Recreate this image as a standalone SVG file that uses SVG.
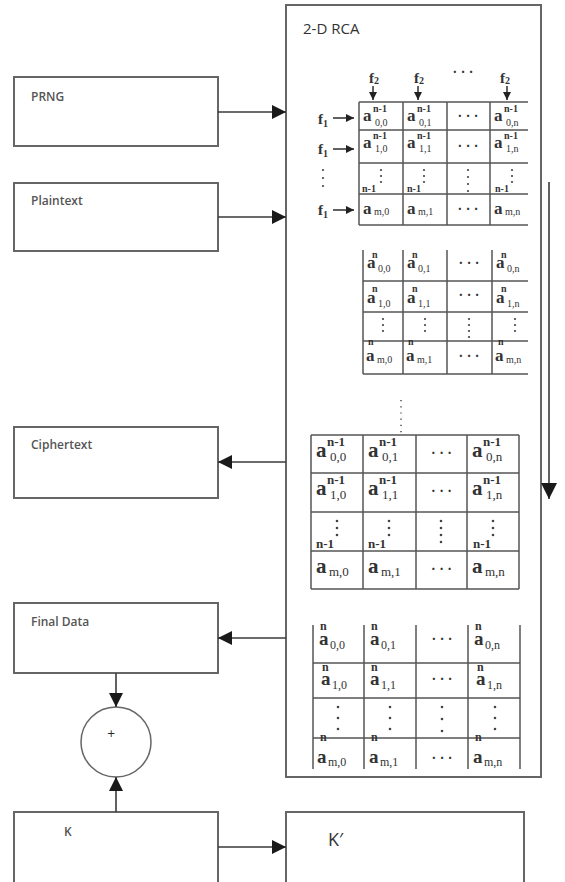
<svg xmlns="http://www.w3.org/2000/svg" width="565" height="882" viewBox="0 0 565 882">
<style>
.box{fill:#fff;stroke:#666;stroke-width:2}
.lbl{font-family:"Open Sans","DejaVu Sans",sans-serif;font-size:12px;font-weight:600;fill:#555}
.ttl{font-family:"Open Sans","DejaVu Sans",sans-serif;font-size:15px;fill:#333}
.conn{stroke:#3a3a3a;stroke-width:1.6;fill:none}
.grid{stroke:#555;stroke-width:1.5;fill:none}
.dot{fill:#444}
.ser{font-family:"Liberation Serif",serif;fill:#333}
.A1{font-size:17px;font-weight:bold}
.p1{font-size:10px;font-weight:bold}
.b1{font-size:10px}
.A3{font-size:21px;font-weight:bold}
.p3{font-size:13px;font-weight:bold}
.b3{font-size:13px}
.A4{font-size:19px;font-weight:bold}
.p4{font-size:12px;font-weight:bold}
.b4{font-size:12px}
.ell{font-family:"Liberation Serif",serif;font-size:14px;fill:#333;text-anchor:middle;font-weight:bold}
.f{font-family:"Liberation Serif",serif;font-weight:bold;fill:#333}
</style>
<defs>
<marker id="ah" viewBox="0 0 14 14" refX="14" refY="7" markerWidth="14" markerHeight="14" markerUnits="userSpaceOnUse" orient="auto"><path d="M0,0 L14,7 L0,14 Z" fill="#1a1a1a"/></marker>
<marker id="ahs" viewBox="0 0 8 8" refX="8" refY="4" markerWidth="8" markerHeight="8" markerUnits="userSpaceOnUse" orient="auto"><path d="M0,0 L8,4 L0,8 Z" fill="#222"/></marker>
<marker id="ahb" viewBox="0 0 16 16" refX="16" refY="8" markerWidth="16" markerHeight="16" markerUnits="userSpaceOnUse" orient="auto"><path d="M0,0 L16,8 L0,16 Z" fill="#1a1a1a"/></marker>
<clipPath id="cr"><rect x="280" y="0" width="248" height="882"/></clipPath>
</defs>

<g id="rca">
<rect class="box" x="286" y="5" width="255" height="772"/>
<text class="ttl" x="303" y="34">2-D RCA</text>
</g>

<g id="prng"><rect class="box" x="14" y="77" width="204" height="69"/><text class="lbl" x="31" y="101">PRNG</text></g>
<g id="plaintext"><rect class="box" x="14" y="183" width="204" height="68"/><text class="lbl" x="31" y="205">Plaintext</text></g>
<g id="ciphertext"><rect class="box" x="14" y="427" width="204" height="71"/><text class="lbl" x="31" y="449">Ciphertext</text></g>
<g id="finaldata"><rect class="box" x="14" y="603" width="204" height="70"/><text class="lbl" x="31" y="626">Final Data</text></g>
<g id="xor"><circle cx="116" cy="742" r="35" fill="#fff" stroke="#666" stroke-width="1.5"/><text x="107" y="737" font-family="DejaVu Sans,sans-serif" font-size="10" fill="#222">+</text></g>
<g id="k"><rect class="box" x="14" y="812" width="204" height="80"/><text class="lbl" x="64" y="836" font-weight="normal">K</text></g>
<g id="kprime"><rect class="box" x="286" y="812" width="238" height="80"/><text x="328" y="846" font-family="Open Sans,DejaVu Sans,sans-serif" font-size="18" fill="#333">K′</text></g>

<g id="connectors">
<line class="conn" x1="218" y1="112" x2="286" y2="112" marker-end="url(#ah)"/>
<line class="conn" x1="218" y1="217" x2="286" y2="217" marker-end="url(#ah)"/>
<line class="conn" x1="286" y1="462" x2="218" y2="462" marker-end="url(#ah)"/>
<line class="conn" x1="286" y1="638" x2="218" y2="638" marker-end="url(#ah)"/>
<line class="conn" x1="116" y1="673" x2="116" y2="707" marker-end="url(#ah)"/>
<line class="conn" x1="116" y1="812" x2="116" y2="777" marker-end="url(#ah)"/>
<line class="conn" x1="218" y1="847" x2="286" y2="847" marker-end="url(#ah)"/>
<line class="conn" x1="549" y1="182" x2="549" y2="499" marker-end="url(#ahb)"/>
</g>

<!-- matrix 1 -->
<g id="matrix1">
<g class="f">
<text x="369" y="83" font-size="15">f<tspan font-size="10" dy="1">2</tspan></text>
<text x="414" y="83" font-size="15">f<tspan font-size="10" dy="1">2</tspan></text>
<text x="500" y="83" font-size="15">f<tspan font-size="10" dy="1">2</tspan></text>
<text x="318" y="124" font-size="15">f<tspan font-size="10" dy="3">1</tspan></text>
<text x="318" y="154" font-size="15">f<tspan font-size="10" dy="3">1</tspan></text>
<text x="318" y="215" font-size="15">f<tspan font-size="10" dy="3">1</tspan></text>
</g>
<text class="ell" x="463" y="77">· · ·</text>
<line class="conn" x1="373" y1="86" x2="373" y2="100" stroke-width="1.2" marker-end="url(#ahs)"/>
<line class="conn" x1="418" y1="86" x2="418" y2="100" stroke-width="1.2" marker-end="url(#ahs)"/>
<line class="conn" x1="507" y1="86" x2="507" y2="100" stroke-width="1.2" marker-end="url(#ahs)"/>
<line class="conn" x1="333" y1="118" x2="354" y2="118" stroke-width="1.2" marker-end="url(#ahs)"/>
<line class="conn" x1="333" y1="149" x2="354" y2="149" stroke-width="1.2" marker-end="url(#ahs)"/>
<line class="conn" x1="333" y1="210" x2="354" y2="210" stroke-width="1.2" marker-end="url(#ahs)"/>
<circle class="dot" cx="323" cy="170" r="1.1"/><circle class="dot" cx="323" cy="178" r="1.1"/><circle class="dot" cx="323" cy="186" r="1.1"/>
<g clip-path="url(#cr)">
<path class="grid" d="M359,102H528M359,130H528M359,163H528M359,194H528M359,225H528M359,102V225M403,102V225M447,102V225M490,102V225"/>
<g class="ser">
<text class="A1" x="363" y="121">a</text><text class="p1" x="373" y="112">n-1</text><text class="b1" x="375" y="126">0,0</text>
<text class="A1" x="407" y="121">a</text><text class="p1" x="417" y="112">n-1</text><text class="b1" x="419" y="126">0,1</text>
<text class="A1" x="494" y="121">a</text><text class="p1" x="504" y="112">n-1</text><text class="b1" x="506" y="126">0,n</text>
<text class="A1" x="363" y="148">a</text><text class="p1" x="373" y="139">n-1</text><text class="b1" x="375" y="152">1,0</text>
<text class="A1" x="407" y="148">a</text><text class="p1" x="417" y="139">n-1</text><text class="b1" x="419" y="152">1,1</text>
<text class="A1" x="494" y="148">a</text><text class="p1" x="504" y="139">n-1</text><text class="b1" x="506" y="152">1,n</text>
<text class="p1" x="362" y="192" font-size="11">n-1</text>
<text class="p1" x="407" y="192" font-size="11">n-1</text>
<text class="p1" x="495" y="192" font-size="11">n-1</text>
<text class="A1" x="363" y="214">a</text><text class="b1" x="374" y="215">m,0</text>
<text class="A1" x="407" y="214">a</text><text class="b1" x="418" y="215">m,1</text>
<text class="A1" x="494" y="214">a</text><text class="b1" x="505" y="215">m,n</text>
</g>
<text class="ell" x="468" y="121">· · ·</text>
<text class="ell" x="468" y="151">· · ·</text>
<text class="ell" x="468" y="214">· · ·</text>
<g class="dot">
<circle cx="381" cy="170" r="1.1"/><circle cx="381" cy="176" r="1.1"/><circle cx="381" cy="182" r="1.1"/>
<circle cx="424" cy="170" r="1.1"/><circle cx="424" cy="176" r="1.1"/><circle cx="424" cy="182" r="1.1"/>
<circle cx="468" cy="170" r="1.1"/><circle cx="468" cy="177" r="1.1"/><circle cx="468" cy="184" r="1.1"/><circle cx="468" cy="191" r="1.1"/>
<circle cx="512" cy="170" r="1.1"/><circle cx="512" cy="176" r="1.1"/><circle cx="512" cy="182" r="1.1"/>
</g>
</g>
</g>

<!-- matrix 2 -->
<g id="matrix2" clip-path="url(#cr)">
<path class="grid" d="M363,281H528M363,312H528M363,341H528M363,374H528M363,250V374M403,250V374M447,250V374M492,250V374"/>
<g class="ser">
<text class="A1" x="367" y="268">a</text><text class="p1" x="372" y="258">n</text><text class="b1" x="378" y="272">0,0</text>
<text class="A1" x="407" y="268">a</text><text class="p1" x="412" y="258">n</text><text class="b1" x="418" y="272">0,1</text>
<text class="A1" x="496" y="268">a</text><text class="p1" x="501" y="258">n</text><text class="b1" x="507" y="272">0,n</text>
<text class="A1" x="367" y="303">a</text><text class="p1" x="372" y="292">n</text><text class="b1" x="378" y="307">1,0</text>
<text class="A1" x="407" y="303">a</text><text class="p1" x="412" y="292">n</text><text class="b1" x="418" y="307">1,1</text>
<text class="A1" x="496" y="303">a</text><text class="p1" x="501" y="292">n</text><text class="b1" x="507" y="307">1,n</text>
<text class="p1" x="368" y="345">n</text>
<text class="p1" x="408" y="345">n</text>
<text class="p1" x="498" y="345">n</text>
<text class="A1" x="366" y="361">a</text><text class="b1" x="377" y="363">m,0</text>
<text class="A1" x="406" y="361">a</text><text class="b1" x="417" y="363">m,1</text>
<text class="A1" x="495" y="361">a</text><text class="b1" x="506" y="363">m,n</text>
</g>
<text class="ell" x="469" y="268">· · ·</text>
<text class="ell" x="469" y="300">· · ·</text>
<text class="ell" x="469" y="361">· · ·</text>
<g class="dot">
<circle cx="383" cy="319" r="1.1"/><circle cx="383" cy="325" r="1.1"/><circle cx="383" cy="331" r="1.1"/>
<circle cx="425" cy="319" r="1.1"/><circle cx="425" cy="325" r="1.1"/><circle cx="425" cy="331" r="1.1"/>
<circle cx="469" cy="319" r="1.1"/><circle cx="469" cy="325" r="1.1"/><circle cx="469" cy="331" r="1.1"/><circle cx="469" cy="337" r="1.1"/>
<circle cx="515" cy="319" r="1.1"/><circle cx="515" cy="325" r="1.1"/><circle cx="515" cy="331" r="1.1"/>
</g>
</g>

<!-- dotted continuation -->
<line x1="401" y1="400" x2="401" y2="433" stroke="#555" stroke-width="1.6" stroke-dasharray="1.2 5"/>

<!-- matrix 3 -->
<g id="matrix3">
<path class="grid" d="M311,435H519M311,473H519M311,512H519M311,551H519M311,589H519M311,435V589M363,435V589M416,435V589M467,435V589M519,435V589"/>
<g class="ser">
<text class="A3" x="316" y="457">a</text><text class="p3" x="327" y="446">n-1</text><text class="b3" x="330" y="461">0,0</text>
<text class="A3" x="368" y="457">a</text><text class="p3" x="379" y="446">n-1</text><text class="b3" x="382" y="461">0,1</text>
<text class="A3" x="472" y="457">a</text><text class="p3" x="483" y="446">n-1</text><text class="b3" x="486" y="461">0,n</text>
<text class="A3" x="316" y="495">a</text><text class="p3" x="327" y="484">n-1</text><text class="b3" x="330" y="499">1,0</text>
<text class="A3" x="368" y="495">a</text><text class="p3" x="379" y="484">n-1</text><text class="b3" x="382" y="499">1,1</text>
<text class="A3" x="472" y="495">a</text><text class="p3" x="483" y="484">n-1</text><text class="b3" x="486" y="499">1,n</text>
<text class="p3" x="316" y="548">n-1</text>
<text class="p3" x="368" y="548">n-1</text>
<text class="p3" x="473" y="548">n-1</text>
<text class="A3" x="316" y="573">a</text><text class="b3" x="329" y="576">m,0</text>
<text class="A3" x="368" y="573">a</text><text class="b3" x="381" y="576">m,1</text>
<text class="A3" x="472" y="573">a</text><text class="b3" x="485" y="576">m,n</text>
</g>
<text class="ell" x="441.5" y="458">· · ·</text>
<text class="ell" x="441.5" y="496">· · ·</text>
<text class="ell" x="441.5" y="574">· · ·</text>
<g class="dot">
<circle cx="337" cy="521" r="1.3"/><circle cx="337" cy="528" r="1.3"/><circle cx="337" cy="535" r="1.3"/>
<circle cx="389" cy="521" r="1.3"/><circle cx="389" cy="528" r="1.3"/><circle cx="389" cy="535" r="1.3"/>
<circle cx="441" cy="521" r="1.3"/><circle cx="441" cy="528" r="1.3"/><circle cx="441" cy="535" r="1.3"/><circle cx="441" cy="542" r="1.3"/>
<circle cx="493" cy="521" r="1.3"/><circle cx="493" cy="528" r="1.3"/><circle cx="493" cy="535" r="1.3"/>
</g>
</g>

<!-- matrix 4 -->
<g id="matrix4">
<path class="grid" d="M313,663H520M313,698H520M313,738H520M313,625V769M364,625V769M416,625V769M468,625V769M520,625V769"/>
<g class="ser">
<text class="p4" x="320" y="630">n</text><text class="A4" x="319" y="645">a</text><text class="b4" x="330" y="649">0,0</text>
<text class="p4" x="371" y="630">n</text><text class="A4" x="370" y="645">a</text><text class="b4" x="381" y="649">0,1</text>
<text class="p4" x="475" y="630">n</text><text class="A4" x="474" y="645">a</text><text class="b4" x="485" y="649">0,n</text>
<text class="p4" x="322" y="671">n</text><text class="A4" x="321" y="685">a</text><text class="b4" x="332" y="689">1,0</text>
<text class="p4" x="371" y="671">n</text><text class="A4" x="370" y="685">a</text><text class="b4" x="381" y="689">1,1</text>
<text class="p4" x="477" y="671">n</text><text class="A4" x="476" y="685">a</text><text class="b4" x="487" y="689">1,n</text>
<text class="p4" x="320" y="741">n</text>
<text class="p4" x="371" y="741">n</text>
<text class="p4" x="475" y="741">n</text>
<text class="A4" x="317" y="763">a</text><text class="b4" x="328" y="766">m,0</text>
<text class="A4" x="369" y="763">a</text><text class="b4" x="380" y="766">m,1</text>
<text class="A4" x="473" y="763">a</text><text class="b4" x="484" y="766">m,n</text>
</g>
<text class="ell" x="442" y="644">· · ·</text>
<text class="ell" x="442" y="684">· · ·</text>
<text class="ell" x="442" y="763">· · ·</text>
<g class="dot">
<circle cx="338" cy="707" r="1.3"/><circle cx="338" cy="718" r="1.3"/><circle cx="338" cy="729" r="1.3"/>
<circle cx="390" cy="707" r="1.3"/><circle cx="390" cy="718" r="1.3"/><circle cx="390" cy="729" r="1.3"/>
<circle cx="442" cy="707" r="1.3"/><circle cx="442" cy="719" r="1.3"/><circle cx="442" cy="731" r="1.3"/>
<circle cx="495" cy="707" r="1.3"/><circle cx="495" cy="718" r="1.3"/><circle cx="495" cy="729" r="1.3"/>
</g>
</g>
</svg>
